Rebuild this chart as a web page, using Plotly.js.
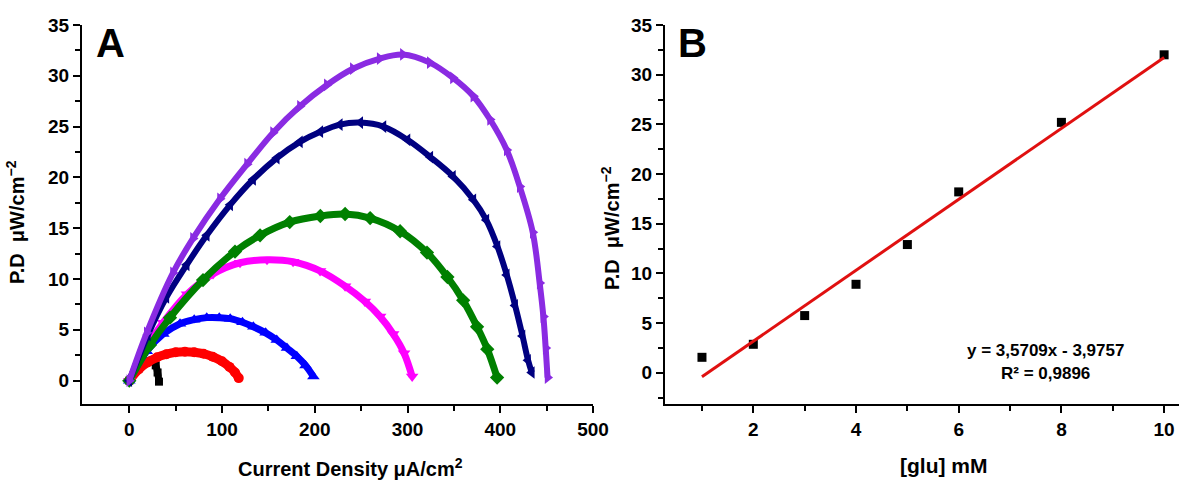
<!DOCTYPE html>
<html>
<head>
<meta charset="utf-8">
<script src="https://cdn.plot.ly/plotly-3.0.1.min.js"></script>
<style>html,body{margin:0;padding:0;background:#fff;}#chart{width:1179px;height:482px;}</style>
</head>
<body>
<div id="chart"></div>
<script>
// Panel A: power density vs current density
const blackX   = [0, 10, 20, 25, 28.5, 30.5, 32];
const blackY   = [0, 1.2, 1.9, 2.0, 1.5, 0.8, -0.1];
const redX     = [0, 10, 20, 30, 40, 50, 60, 70, 80, 90, 100, 108, 114, 118];
const redY     = [0, 1.1, 1.8, 2.3, 2.6, 2.8, 2.85, 2.8, 2.65, 2.35, 1.9, 1.35, 0.8, 0.25];
const blueX    = [0, 18.8, 36.7, 54.7, 70, 83.5, 97, 108.8, 122, 133.8, 147, 159, 170, 180.6, 190, 198.5];
const blueY    = [0, 2.9, 4.6, 5.6, 6.0, 6.2, 6.2, 6.1, 5.75, 5.3, 4.7, 4.0, 3.2, 2.4, 1.5, 0.4];
const magX     = [0, 16.9, 36.4, 62.2, 90.3, 119.4, 148.5, 176.6, 205.7, 232.7, 254, 270.5, 284.5, 296.3, 305];
const magY     = [0, 3.05, 5.7, 8.5, 10.5, 11.6, 11.9, 11.7, 10.8, 9.3, 7.8, 6.3, 4.6, 2.7, 0.4];
const greenX   = [0, 22.3, 43.9, 79.5, 114, 141, 173, 206, 232.7, 259.7, 292, 321, 343, 360, 375, 386, 396.6];
const greenY   = [0, 3.5, 6.2, 9.9, 12.7, 14.3, 15.6, 16.2, 16.4, 16.0, 14.7, 12.6, 10.2, 7.9, 5.3, 3.1, 0.3];
const navyX    = [0, 20, 40, 61.9, 83.5, 108.8, 133.5, 159, 184, 206, 227, 249, 274, 300, 324.6, 349, 371, 385, 397, 407, 416, 424, 430, 434];
const navyY    = [0, 4.5, 8.2, 11.4, 14.3, 17.3, 19.8, 21.9, 23.5, 24.5, 25.2, 25.4, 25.0, 23.7, 22.0, 20.1, 17.8, 15.8, 13.2, 10.4, 7.4, 4.4, 2.0, 0.8];
const purpleX  = [0, 18.8, 47.1, 68.7, 97.8, 127, 155, 184, 213, 241, 270, 295, 324, 349, 371, 389, 407, 421, 435, 442.5, 446.5, 449, 451];
const purpleY  = [0, 4.7, 10.6, 14.0, 17.9, 21.3, 24.4, 27.0, 29.1, 30.7, 31.7, 32.1, 31.3, 29.8, 28.0, 25.7, 22.7, 19.1, 14.6, 9.6, 6.3, 3.2, 0.3];

// Panel B: P.D vs [glu]
const gluX = [1, 2, 3, 4, 5, 6, 8, 10];
const pdY  = [1.55, 2.86, 5.75, 8.9, 12.9, 18.2, 25.2, 32.0];
const fitSlope = 3.5709, fitIntercept = -3.9757;
const fitX = [1, 10];
const fitY = fitX.map(x => fitSlope * x + fitIntercept);

const W = 1179, H = 482;
const px = v => v / W, py = v => 1 - v / H;
const FONT = 'Liberation Sans, Arial, sans-serif';

function curve(x, y, color, symbol, size, lw) {
  return {
    x: x, y: y, type: 'scatter', mode: 'lines+markers',
    line: {color: color, width: lw, shape: 'spline', smoothing: 1},
    marker: {color: color, symbol: symbol, size: size, line: {width: 0}},
    xaxis: 'x', yaxis: 'y', hoverinfo: 'skip', showlegend: false
  };
}

const traces = [
  curve(blackX, blackY, '#000000', 'square', 8, 7),
  curve(redX, redY, '#ff0000', 'circle', 10, 9),
  curve(blueX, blueY, '#0000ff', 'triangle-up', 11, 7),
  curve(magX, magY, '#ff00ff', 'triangle-down', 11, 7),
  curve(greenX, greenY, '#008000', 'diamond', 11, 7),
  curve(navyX, navyY, '#000080', 'triangle-left', 11, 6),
  curve(purpleX, purpleY, '#8a2be2', 'triangle-right', 11, 6),
  {x: gluX, y: pdY, type: 'scatter', mode: 'markers',
   marker: {color: '#000', symbol: 'square', size: 9},
   xaxis: 'x2', yaxis: 'y2', showlegend: false},
  {x: fitX, y: fitY, type: 'scatter', mode: 'lines',
   line: {color: '#e01010', width: 3},
   xaxis: 'x2', yaxis: 'y2', showlegend: false}
];

const tickFont = {family: FONT, size: 19, color: '#000', weight: 'bold'};
function axis(extra) {
  return Object.assign({
    showgrid: false, zeroline: false, showline: true, linecolor: '#000', linewidth: 2,
    ticks: 'outside', ticklen: 7, tickwidth: 2, tickcolor: '#000',
    tickfont: tickFont, fixedrange: true
  }, extra);
}
const minorStyle = {ticks: 'outside', ticklen: 5, tickwidth: 2, tickcolor: '#000'};

const layout = {
  width: W, height: H,
  margin: {l: 0, r: 0, t: 0, b: 0},
  paper_bgcolor: '#fff', plot_bgcolor: '#fff',
  showlegend: false,
  xaxis: axis({domain: [px(82), px(593)], range: [-51, 500], tickvals: [0, 100, 200, 300, 400, 500],
               minor: Object.assign({tickvals: [50, 150, 250, 350, 450]}, minorStyle), anchor: 'y'}),
  yaxis: axis({domain: [py(404), py(25)], range: [-2.3, 35], tickvals: [0, 5, 10, 15, 20, 25, 30, 35],
               minor: Object.assign({tickvals: [-2.5, 2.5, 7.5, 12.5, 17.5, 22.5, 27.5, 32.5]}, minorStyle), anchor: 'x'}),
  xaxis2: axis({domain: [px(665), 1], range: [0.28, 10.29], tickvals: [2, 4, 6, 8, 10],
               minor: Object.assign({tickvals: [1, 3, 5, 7, 9]}, minorStyle), anchor: 'y2'}),
  yaxis2: axis({domain: [py(404), py(25)], range: [-3.15, 35], tickvals: [0, 5, 10, 15, 20, 25, 30, 35],
               minor: Object.assign({tickvals: [-2.5, 2.5, 7.5, 12.5, 17.5, 22.5, 27.5, 32.5]}, minorStyle), anchor: 'x2'}),
  annotations: [
    {text: 'A', xref: 'paper', yref: 'paper', x: px(110), y: py(43), showarrow: false,
     font: {family: FONT, size: 40, color: '#000', weight: 'bold'}, xanchor: 'center', yanchor: 'middle'},
    {text: 'B', xref: 'paper', yref: 'paper', x: px(692), y: py(43), showarrow: false,
     font: {family: FONT, size: 40, color: '#000', weight: 'bold'}, xanchor: 'center', yanchor: 'middle'},
    {text: 'P.D  μW/cm<sup>−2</sup>', xref: 'paper', yref: 'paper', x: px(16), y: py(222), showarrow: false,
     textangle: -90, font: {family: FONT, size: 20, color: '#000', weight: 'bold'}, xanchor: 'center', yanchor: 'middle'},
    {text: 'P.D  μW/cm<sup>−2</sup>', xref: 'paper', yref: 'paper', x: px(610), y: py(228), showarrow: false,
     textangle: -90, font: {family: FONT, size: 20, color: '#000', weight: 'bold'}, xanchor: 'center', yanchor: 'middle'},
    {text: 'Current Density μA/cm<sup>2</sup>', xref: 'paper', yref: 'paper', x: px(350), y: py(467), showarrow: false,
     font: {family: FONT, size: 20, color: '#000', weight: 'bold'}, xanchor: 'center', yanchor: 'middle'},
    {text: '[glu] mM', xref: 'paper', yref: 'paper', x: px(943), y: py(465), showarrow: false,
     font: {family: FONT, size: 21, color: '#000', weight: 'bold'}, xanchor: 'center', yanchor: 'middle'},
    {text: 'y = 3,5709x - 3,9757', xref: 'paper', yref: 'paper', x: px(1045), y: py(350), showarrow: false,
     font: {family: FONT, size: 17, color: '#000', weight: 'bold'}, xanchor: 'center', yanchor: 'middle'},
    {text: 'R² = 0,9896', xref: 'paper', yref: 'paper', x: px(1045), y: py(373), showarrow: false,
     font: {family: FONT, size: 17, color: '#000', weight: 'bold'}, xanchor: 'center', yanchor: 'middle'}
  ]
};

Plotly.newPlot('chart', traces, layout, {displayModeBar: false, staticPlot: true});
</script>
</body>
</html>
